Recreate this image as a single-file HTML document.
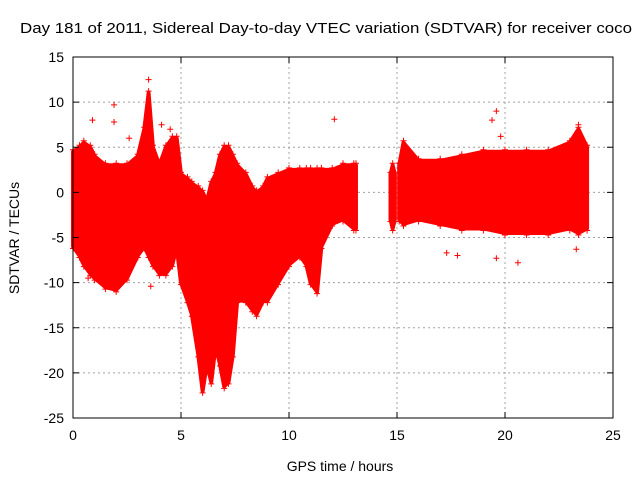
<!DOCTYPE html>
<html><head><meta charset="utf-8"><style>
body{margin:0;background:#fff}
svg{display:block;font-family:"Liberation Sans",sans-serif}
</style></head><body>
<svg id="chart" width="640" height="480">
<rect width="640" height="480" fill="#fff"/>
<text x="20" y="33" textLength="612" lengthAdjust="spacingAndGlyphs" font-size="15">Day 181 of 2011, Sidereal Day-to-day VTEC variation (SDTVAR) for receiver coco</text>
<text x="340" y="471" text-anchor="middle" font-size="14">GPS time / hours</text>
<text transform="translate(19,238) rotate(-90)" text-anchor="middle" font-size="14">SDTVAR / TECUs</text>
<g id="grid"></g><g id="data"></g><g id="axes"></g>
</svg>
<script>
const xTicks=[0,5,10,15,20,25];
const yTicks=[15,10,5,0,-5,-10,-15,-20,-25];
const segments=[
 {t:[0,0.3,0.5,0.8,1,1.5,2,2.5,3,3.3,3.5,3.7,4,4.3,4.6,4.8,5,5.3,5.5,5.8,6,6.2,6.4,6.6,6.8,7,7.2,7.4,7.6,8,8.3,8.5,8.8,9,9.5,10,10.5,10.8,11,11.3,11.5,12,12.5,13,13.1],
  hi:[4.5,5,5.5,5,4,3,3,3,4,7,11,5,3,5,6,6,2,1.5,1,0.5,0,-1,1,2,4,5,5,4,3,2,0.5,0,0.5,1.5,2,2.5,2.5,2.5,2.5,2.5,2.5,2.5,3,3,3],
  lo:[-6,-7,-8,-9,-9.5,-10.5,-10.8,-9.5,-7,-6,-7,-8,-9,-9,-8,-6,-10,-12,-13.5,-18,-22,-19,-21,-17,-19,-21.5,-21,-18,-12,-12,-13,-13.5,-12,-12,-10,-8,-7,-8,-10,-11,-6,-3.5,-3,-4,-4]},
 {t:[14.7,14.8,14.9],hi:[2,3,2],lo:[-3,-4,-3]},
 {t:[15.1,15.3,16,17,18,19,20,21,22,23,23.4,23.8],
  hi:[3,5.5,3.5,3.5,4,4.5,4.5,4.5,4.5,5.5,7,5],
  lo:[-3,-3.5,-3,-3.5,-4,-4,-4.5,-4.5,-4.5,-4,-4.5,-4]}
];
const outX=[0.9,1.9,1.9,3.5,3.6,12.1,19.4,19.6,19.8,23.4,17.3,17.8,19.6,20.6,0.7,2.6,4.1,4.5,23.3];
const outY=[8,9.7,7.8,12.5,-10.4,8.1,8,9,6.2,7.5,-6.7,-7,-7.3,-7.8,-9.5,6,7.5,7,-6.3];
const X0=73,X1=613,Y0=418,Y1=57;
const sx=v=>X0+(v-0)/(25-0)*(X1-X0);
const sy=v=>Y0-(v+25)/40*(Y0-Y1);
const NS="http://www.w3.org/2000/svg";
function mk(tag,attrs,parent){const e=document.createElementNS(NS,tag);for(const k in attrs)e.setAttribute(k,attrs[k]);parent.appendChild(e);return e;}
const grid=document.getElementById('grid'),data=document.getElementById('data'),axes=document.getElementById('axes');
xTicks.forEach(v=>{
 if(v>0&&v<25){const l=mk('line',{x1:sx(v),x2:sx(v),y1:Y1,y2:Y0,stroke:'#a0a0a0','stroke-dasharray':'2,3'},grid);
 
 }
 const t=mk('text',{x:sx(v),y:Y0+22,'text-anchor':'middle','font-size':14},axes);t.textContent=v;
 
 
 mk('line',{x1:sx(v),x2:sx(v),y1:Y0,y2:Y0-6,stroke:'#000'},axes);
 mk('line',{x1:sx(v),x2:sx(v),y1:Y1,y2:Y1+6,stroke:'#000'},axes);
});
yTicks.forEach(v=>{
 if(v>-25&&v<15){const l=mk('line',{x1:X0,x2:X1,y1:sy(v),y2:sy(v),stroke:'#a0a0a0','stroke-dasharray':'2,3'},grid);
 
 }
 const t=mk('text',{x:X0-9,y:sy(v)+5,'text-anchor':'end','font-size':14},axes);t.textContent=v;
 
 
 mk('line',{x1:X0,x2:X0+6,y1:sy(v),y2:sy(v),stroke:'#000'},axes);
 mk('line',{x1:X1,x2:X1-6,y1:sy(v),y2:sy(v),stroke:'#000'},axes);
});
const frame=mk('rect',{x:X0,y:Y1,width:X1-X0,height:Y0-Y1,fill:'none',stroke:'#000'},axes);


function cross(x,y,g){mk('path',{d:`M${x-3},${y}h6M${x},${y-3}v6`,stroke:'#f00','stroke-width':1},g);}
segments.forEach(s=>{
 let pts=s.t.map((t,i)=>sx(t)+','+sy(s.hi[i]));
 for(let i=s.t.length-1;i>=0;i--)pts.push(sx(s.t[i])+','+sy(s.lo[i]));
 const p=mk('polygon',{points:pts.join(' '),fill:'#f00',stroke:'#f00','stroke-width':4,'stroke-linejoin':'round'},data);
 
 
 s.t.forEach((t,i)=>{cross(sx(t),sy(s.hi[i])-2,data);cross(sx(t),sy(s.lo[i])+2,data);});
});
outX.forEach((x,i)=>{
 const g=mk('g',{},data);
 
 
 cross(sx(x),sy(outY[i]),g);
});
</script>
</body></html>
